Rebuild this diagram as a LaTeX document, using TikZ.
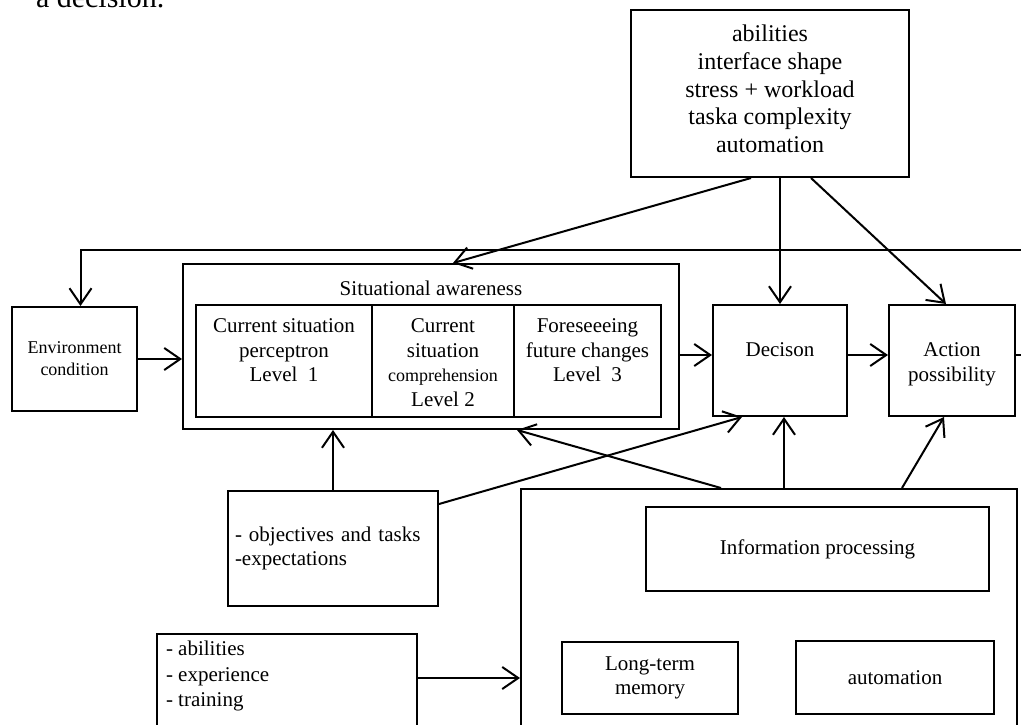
\documentclass[tikz,border=0pt]{standalone}
\usepackage{fontspec}
\setmainfont{Liberation Serif}
\usetikzlibrary{arrows.meta}
\newcommand{\fsz}[2]{\fontsize{#1}{#2}\selectfont}

\begin{document}
\begin{tikzpicture}[x=1pt, y=-1pt, -{Straight Barb[length=16pt,width=22pt]}, line width=2pt,
      every node/.append style={draw, inner sep=0pt, align=center, font=\fsz{21}{24.5}},
      intext/.style={draw=none, anchor=north, yshift=#1}]
    \useasboundingbox (0,0) rectangle (1021,724);
    \clip (0,0) rectangle (1021,724);
    \node (prev) [draw=none, anchor=base west, font=\fsz{30}{36}] at (35,7) {a decision.};
    \node (factors) [minimum width=278pt, minimum height=167pt,
      label={[intext=-15pt, font=\fsz{24}{27.7}]north:{abilities\\interface shape\\stress + workload\\taska complexity\\automation}}] at (770,93.5) {};
    \node (env) [minimum width=125pt, minimum height=104pt, font=\fsz{18}{22}] at (74.5,359) {Environment\\condition};
    \node (sa) [minimum width=496pt, minimum height=165pt,
      label={[intext=-17pt]north:Situational awareness}] at (431,346.5) {};
    \node (lv1) [minimum width=176pt, minimum height=112pt,
      label={[intext=-14pt]north:{Current situation\\perceptron\\Level~~1}}] at (284,361) {};
    \node (lv2) [minimum width=142pt, minimum height=112pt,
      label={[intext=-14pt]north:{Current\\situation\\{\fsz{18}{21}comprehension}\\Level 2}}] at (443,361) {};
    \node (lv3) [minimum width=147pt, minimum height=112pt,
      label={[intext=-14pt]north:{Foreseeeing\\future changes\\Level~~3}}] at (587.5,361) {};
    \node (decison) [minimum width=134pt, minimum height=111pt,
      label={[intext=-38pt]north:Decison}] at (780,360.5) {};
    \node (action) [minimum width=126pt, minimum height=111pt,
      label={[intext=-38pt]north:{Action\\possibility}}] at (952,360.5) {};
    \node (objectives) [text width=196pt, inner xsep=7pt, minimum height=115pt, align=left] at (333,548.5)
      {- objectives and tasks\\-expectations};
    \node (skills) [minimum width=260pt, minimum height=126pt,
      label={[intext=-7pt, anchor=north west, xshift=9pt, align=left, font=\fsz{21}{25.5}]north west:{- abilities\\- experience\\- training}}] at (287,697) {};
    \node (mind) [minimum width=496pt, minimum height=271pt] at (769,624.5) {};
    \node (info) [minimum width=343pt, minimum height=84pt] at (817.5,549) {Information processing};
    \node (ltm) [minimum width=176pt, minimum height=72pt] at (650,678) {Long-term\\memory};
    \node (automat) [minimum width=198pt, minimum height=73pt] at (895,677.5) {automation};
    \coordinate (mid) at (0,355);
    \coordinate (corner) at (1040,250);
    % top factors
    \draw ([xshift=-19pt]factors.south) -- ([xshift=22pt]sa.north);
    \draw (factors.south -| decison.north) -- (decison.north);
    \draw ([xshift=41pt]factors.south) -- ([xshift=-6pt]action.north);
    % main row and feedback
    \draw (action.east |- mid) -| (corner) -| ([xshift=6pt]env.north);
    \draw (env.east) -- (env.east -| sa.west);
    \draw (sa.east |- mid) -- (decison.west |- mid);
    \draw (decison.east |- mid) -- (action.west |- mid);
    % lower part
    \draw (objectives.north) -- (objectives.north |- sa.south);
    \draw ([yshift=-14pt]objectives.north east) -- ([xshift=-38pt]decison.south);
    \draw ([xshift=201pt]mind.north west) -- ([xshift=86pt]sa.south);
    \draw ([xshift=4pt]decison.south |- mind.north) -- ([xshift=4pt]decison.south);
    \draw ([xshift=382pt]mind.north west) -- ([xshift=-8pt]action.south);
    \draw ([yshift=19pt]skills.east) -- ([yshift=19pt]skills.east -| mind.west);
  \end{tikzpicture}
\end{document}
